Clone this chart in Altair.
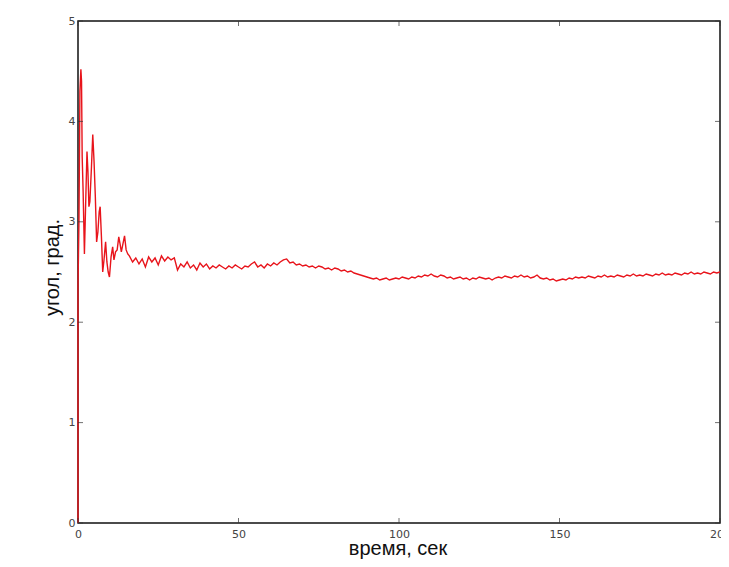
import altair as alt
import pandas as pd

# --- data ---
early_t = [0, 0, 0.3, 0.6, 0.9, 1.1, 1.3, 1.6, 2.0, 2.4, 2.8, 3.1, 3.4, 3.7, 4.2, 4.6,
           5.0, 5.4, 5.8, 6.2, 6.6, 6.9, 7.3, 7.7, 8.1, 8.6, 9.0, 9.4, 9.8, 10.3, 10.8,
           11.2, 11.7, 12.2, 12.7, 13.1, 13.5, 14.0, 14.5, 15.0, 15.5]
early_v = [0, 2.35, 3.0, 4.3, 4.52, 4.4, 3.65, 3.3, 2.68, 3.2, 3.7, 3.5, 3.15, 3.2, 3.55, 3.87,
           3.6, 3.25, 2.8, 2.9, 3.1, 3.15, 2.85, 2.5, 2.62, 2.8, 2.6, 2.5, 2.45, 2.65, 2.75,
           2.62, 2.7, 2.72, 2.85, 2.78, 2.7, 2.78, 2.86, 2.72, 2.68]

late_t = list(range(16, 201))
late_v = [
    # 16..30
    2.66, 2.60, 2.64, 2.58, 2.63, 2.55, 2.65, 2.60, 2.64, 2.57, 2.66, 2.61, 2.65, 2.62, 2.64,
    # 31..55
    2.52, 2.58, 2.55, 2.60, 2.54, 2.57, 2.52, 2.59, 2.55, 2.58, 2.53, 2.56, 2.54, 2.57, 2.55,
    2.53, 2.56, 2.54, 2.57, 2.55, 2.53, 2.56, 2.55, 2.58, 2.60,
    # 56..80
    2.55, 2.57, 2.54, 2.58, 2.56, 2.59, 2.57, 2.60, 2.62, 2.63, 2.59, 2.60, 2.57, 2.58, 2.56,
    2.57, 2.55, 2.56, 2.54, 2.56, 2.55, 2.53, 2.54, 2.52, 2.54,
    # 81..105
    2.53, 2.51, 2.52, 2.50, 2.51, 2.49, 2.48, 2.47, 2.46, 2.45, 2.44, 2.43, 2.44, 2.42, 2.43,
    2.44, 2.42, 2.43, 2.44, 2.43, 2.45, 2.44, 2.43, 2.45, 2.44,
    # 106..130
    2.46, 2.45, 2.47, 2.46, 2.48, 2.46, 2.45, 2.47, 2.46, 2.44, 2.45, 2.43, 2.44, 2.45, 2.43,
    2.44, 2.42, 2.44, 2.43, 2.45, 2.44, 2.43, 2.44, 2.42, 2.44,
    # 131..155
    2.45, 2.44, 2.46, 2.45, 2.44, 2.46, 2.45, 2.47, 2.45, 2.46, 2.44, 2.45, 2.47, 2.44, 2.43,
    2.44, 2.42, 2.43, 2.41, 2.42, 2.43, 2.42, 2.44, 2.43, 2.45,
    # 156..180
    2.44, 2.45, 2.44, 2.46, 2.45, 2.44, 2.46, 2.45, 2.47, 2.45, 2.46, 2.45, 2.47, 2.46, 2.45,
    2.47, 2.46, 2.48, 2.46, 2.47, 2.46, 2.48, 2.47, 2.46, 2.48,
    # 181..200
    2.47, 2.49, 2.47, 2.48, 2.47, 2.49, 2.48, 2.47, 2.49, 2.48, 2.50, 2.48, 2.49, 2.48, 2.50,
    2.49, 2.48, 2.50, 2.49, 2.50,
]

x_ticks = [0, 50, 100, 150, 200]
y_ticks = [0, 1, 2, 3, 4, 5]

x_title = "время, сек"
y_title = "угол, град."

W, H = 642, 502

t_all = early_t + late_t
v_all = early_v + late_v
df = pd.DataFrame({"i": list(range(len(t_all))), "t": t_all, "v": v_all})
xt = pd.DataFrame({"t": x_ticks})
yt = pd.DataFrame({"v": y_ticks})

xscale = alt.Scale(domain=[0, 200], nice=False, zero=False)
yscale = alt.Scale(domain=[0, 5], nice=False, zero=False)

label_font = "DejaVu Sans"
title_font = "Liberation Sans"

line = alt.Chart(df).mark_line(color="#e8141b", strokeWidth=1.4).encode(
    x=alt.X("t:Q", scale=xscale,
            axis=alt.Axis(values=x_ticks, format="d", title=x_title, labelFlush=False,
                          labelPadding=5, titleX=319.5, titleY=31,
                          titleBaseline="alphabetic", titleAlign="center")),
    y=alt.Y("v:Q", scale=yscale,
            axis=alt.Axis(values=y_ticks, format="d", title=y_title, labelFlush=False,
                          labelPadding=3, titleX=-20, titleY=246,
                          titleBaseline="alphabetic", titleAlign="center",
                          titleAngle=270)),
    order="i:Q",
)

tick_color = "#333333"
xt_bottom = alt.Chart(xt).mark_tick(orient="vertical", size=5, thickness=1, color=tick_color).encode(
    x=alt.X("t:Q", scale=xscale), y=alt.value(H - 2.5))
xt_top = alt.Chart(xt).mark_tick(orient="vertical", size=5, thickness=1, color=tick_color).encode(
    x=alt.X("t:Q", scale=xscale), y=alt.value(2.5))
yt_left = alt.Chart(yt).mark_tick(orient="horizontal", size=5, thickness=1, color=tick_color).encode(
    y=alt.Y("v:Q", scale=yscale), x=alt.value(2.5))
yt_right = alt.Chart(yt).mark_tick(orient="horizontal", size=5, thickness=1, color=tick_color).encode(
    y=alt.Y("v:Q", scale=yscale), x=alt.value(W - 2.5))

chart = alt.layer(line, xt_bottom, xt_top, yt_left, yt_right).properties(
    width=W, height=H,
    autosize=alt.AutoSizeParams(type="none"),
    padding={"left": 70, "top": 13, "right": 1, "bottom": 36},
    background="white",
).configure_view(
    stroke="#111111", strokeWidth=1.5,
).configure_axis(
    grid=False, domain=False, ticks=False,
    labelFont=label_font, labelFontSize=11, labelColor="#444444",
    titleFont=title_font, titleFontSize=20, titleFontWeight="normal", titleColor="#111111",
)

chart.save("out.html", embed_options={"renderer": "svg", "actions": False})
